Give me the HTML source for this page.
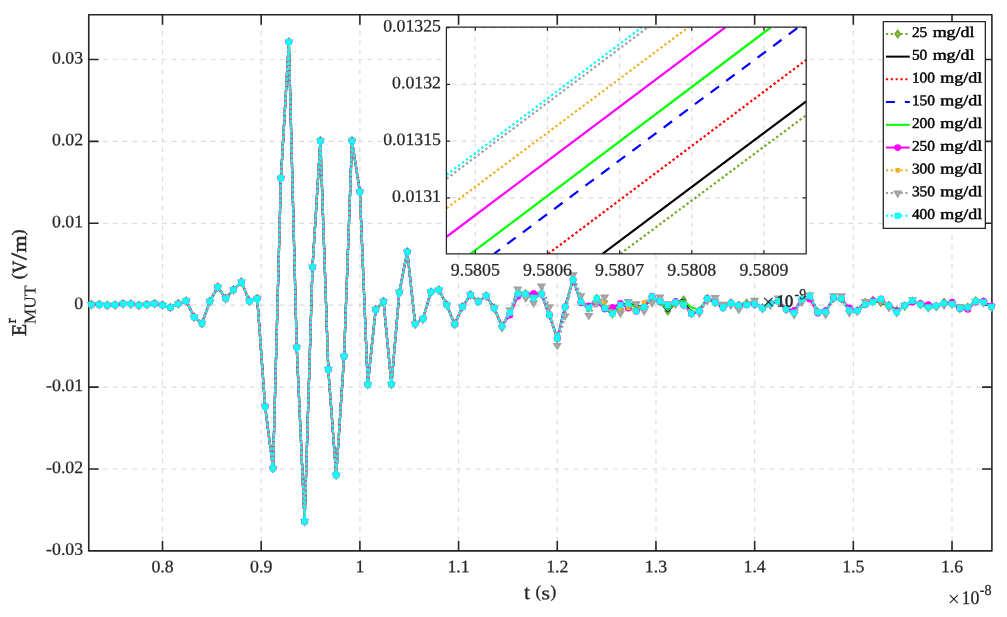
<!DOCTYPE html>
<html><head><meta charset="utf-8"><title>E MUT plot</title>
<style>html,body{margin:0;padding:0;background:#fff}svg{display:block}</style></head>
<body>
<svg width="1007" height="617" viewBox="0 0 1007 617" font-family="'Liberation Serif', serif" font-weight="normal" stroke-linejoin="round">
<rect width="1007" height="617" fill="#fff"/>
<g stroke="#dcdcdc" stroke-width="1.2" fill="none">
<path d="M162.5 14.75V550.9" stroke-dasharray="4.8 4.93" stroke-dashoffset="3.66"/>
<path d="M261.19 14.75V550.9" stroke-dasharray="4.8 4.93" stroke-dashoffset="3.66"/>
<path d="M359.88 14.75V550.9" stroke-dasharray="4.8 4.93" stroke-dashoffset="3.66"/>
<path d="M458.57 14.75V550.9" stroke-dasharray="4.8 4.93" stroke-dashoffset="3.66"/>
<path d="M557.26 14.75V550.9" stroke-dasharray="4.8 4.93" stroke-dashoffset="3.66"/>
<path d="M655.95 14.75V550.9" stroke-dasharray="4.8 4.93" stroke-dashoffset="3.66"/>
<path d="M754.64 14.75V550.9" stroke-dasharray="4.8 4.93" stroke-dashoffset="3.66"/>
<path d="M853.33 14.75V550.9" stroke-dasharray="4.8 4.93" stroke-dashoffset="3.66"/>
<path d="M952.02 14.75V550.9" stroke-dasharray="4.8 4.93" stroke-dashoffset="3.66"/>
<path d="M88.75 469H991.9" stroke-dasharray="4.8 5.01" stroke-dashoffset="5.47"/>
<path d="M88.75 387.1H991.9" stroke-dasharray="4.8 5.01" stroke-dashoffset="5.47"/>
<path d="M88.75 305.2H991.9" stroke-dasharray="4.8 5.01" stroke-dashoffset="5.47"/>
<path d="M88.75 223.3H991.9" stroke-dasharray="4.8 5.01" stroke-dashoffset="5.47"/>
<path d="M88.75 141.4H991.9" stroke-dasharray="4.8 5.01" stroke-dashoffset="5.47"/>
<path d="M88.75 59.5H991.9" stroke-dasharray="4.8 5.01" stroke-dashoffset="5.47"/>
</g>
<g stroke="#262626" stroke-width="1.6" fill="none">
<rect x="88.75" y="14.75" width="903.15" height="536.15"/>
<path d="M162.5 550.9v-9.9M162.5 14.75v9.9M261.19 550.9v-9.9M261.19 14.75v9.9M359.88 550.9v-9.9M359.88 14.75v9.9M458.57 550.9v-9.9M458.57 14.75v9.9M557.26 550.9v-9.9M557.26 14.75v9.9M655.95 550.9v-9.9M655.95 14.75v9.9M754.64 550.9v-9.9M754.64 14.75v9.9M853.33 550.9v-9.9M853.33 14.75v9.9M952.02 550.9v-9.9M952.02 14.75v9.9M88.75 469h9.9M991.9 469h-9.9M88.75 387.1h9.9M991.9 387.1h-9.9M88.75 305.2h9.9M991.9 305.2h-9.9M88.75 223.3h9.9M991.9 223.3h-9.9M88.75 141.4h9.9M991.9 141.4h-9.9M88.75 59.5h9.9M991.9 59.5h-9.9"/>
</g>
<g fill="#262626" stroke="#262626" stroke-width="0.25">
<text transform="translate(162.5,572.3) rotate(0.03) scale(1.015,1)" font-size="17.5" text-anchor="middle">0.8</text>
<text transform="translate(261.19,572.3) rotate(0.03) scale(1.015,1)" font-size="17.5" text-anchor="middle">0.9</text>
<text transform="translate(359.88,572.3) rotate(0.03) scale(1.015,1)" font-size="17.5" text-anchor="middle">1</text>
<text transform="translate(458.57,572.3) rotate(0.03) scale(1.015,1)" font-size="17.5" text-anchor="middle">1.1</text>
<text transform="translate(557.26,572.3) rotate(0.03) scale(1.015,1)" font-size="17.5" text-anchor="middle">1.2</text>
<text transform="translate(655.95,572.3) rotate(0.03) scale(1.015,1)" font-size="17.5" text-anchor="middle">1.3</text>
<text transform="translate(754.64,572.3) rotate(0.03) scale(1.015,1)" font-size="17.5" text-anchor="middle">1.4</text>
<text transform="translate(853.33,572.3) rotate(0.03) scale(1.015,1)" font-size="17.5" text-anchor="middle">1.5</text>
<text transform="translate(952.02,572.3) rotate(0.03) scale(1.015,1)" font-size="17.5" text-anchor="middle">1.6</text>
<text transform="translate(83.1,554.8) rotate(0.03) scale(1.015,1)" font-size="17.5" text-anchor="end">-0.03</text>
<text transform="translate(83.1,472.9) rotate(0.03) scale(1.015,1)" font-size="17.5" text-anchor="end">-0.02</text>
<text transform="translate(83.1,391) rotate(0.03) scale(1.015,1)" font-size="17.5" text-anchor="end">-0.01</text>
<text transform="translate(83.1,309.1) rotate(0.03) scale(1.015,1)" font-size="17.5" text-anchor="end">0</text>
<text transform="translate(83.1,227.2) rotate(0.03) scale(1.015,1)" font-size="17.5" text-anchor="end">0.01</text>
<text transform="translate(83.1,145.3) rotate(0.03) scale(1.015,1)" font-size="17.5" text-anchor="end">0.02</text>
<text transform="translate(83.1,63.4) rotate(0.03) scale(1.015,1)" font-size="17.5" text-anchor="end">0.03</text>
</g>
<text transform="translate(524,599.1) rotate(0.03)" fill="#262626" stroke="#262626" stroke-width="0.3"><tspan x="0" y="0" font-size="20.6" textLength="6.01" lengthAdjust="spacingAndGlyphs">t</tspan><tspan> </tspan><tspan x="11.5" y="-1.9" font-size="17.3">(</tspan><tspan x="17.4" y="0.1" font-size="18.7" textLength="8.51" lengthAdjust="spacingAndGlyphs">s</tspan><tspan x="26.6" y="-1.9" font-size="17.3">)</tspan></text>
<text transform="translate(961.5,603.8) rotate(0.03)" fill="#262626" stroke="#262626" stroke-width="0.25"><tspan x="-13.76" y="2.4" font-size="21.5" stroke="none">×</tspan><tspan x="0" y="0" font-size="19.2" textLength="17.86" lengthAdjust="spacingAndGlyphs">10</tspan><tspan x="18.3" y="-8.5" font-size="15.2" textLength="11.78" lengthAdjust="spacingAndGlyphs">-8</tspan></text>
<text transform="translate(26.0,336.1) rotate(-90.03)" fill="#262626" stroke="#262626" stroke-width="0.6"><tspan x="0" y="0.1" font-size="20.8" textLength="12.07" lengthAdjust="spacingAndGlyphs">E</tspan><tspan x="12.8" y="-10.3" font-size="14.6" stroke-width="0.5">r</tspan><tspan x="11.9" y="9.6" font-size="16.6" textLength="38.73" lengthAdjust="spacingAndGlyphs" stroke-width="0.15">MUT</tspan><tspan> </tspan><tspan x="56.8" y="-2.3" font-size="17.3" stroke-width="0.45">(</tspan><tspan x="62.9" y="0" font-size="20.0" textLength="12.57" lengthAdjust="spacingAndGlyphs">V</tspan><tspan x="76.2" y="0.2" font-size="22" textLength="7.09" lengthAdjust="spacingAndGlyphs">/</tspan><tspan x="83.7" y="0" font-size="19.3" textLength="16.96" lengthAdjust="spacingAndGlyphs">m</tspan><tspan x="100.9" y="-2.3" font-size="17.3" stroke-width="0.45">)</tspan></text>
<g fill="none" stroke-linejoin="round">
<polyline points="91.45,304.5 99.34,304.6 107.23,305.2 115.13,304.9 123.03,303.8 130.92,304 138.81,305.2 146.71,304.6 154.6,303.6 162.5,305.1 170.4,307.4 178.29,303.8 186.19,300.9 194.08,317.1 201.97,323.4 209.87,301.3 217.76,287.1 225.66,298.5 233.56,289.7 241.45,282 249.34,301.1 257.24,298.6 265.13,406.5 273.03,468.3 280.93,178.1 288.82,41.9 296.72,347.3 304.61,521.4 312.5,267.2 320.4,140.8 328.29,369.4 336.19,475.1 344.08,356.4 351.98,140.8 359.88,191.8 367.77,384.6 375.66,309.6 383.56,301.6 391.45,384.3 399.35,292.2 407.25,251.7 415.14,324 423.03,318.9 430.93,291.9 438.82,289.9 446.72,304.8 454.62,324.3 462.51,306.8 470.4,294.8 478.3,301.6 486.19,295.9 494.09,308.1 501.98,326.2 509.88,312.8 517.77,293.7 525.67,293.9 533.57,297.9 541.46,293.9 549.36,315 557.25,338.4 565.14,306.9 573.04,279.8 580.93,301.9 588.83,307.8 596.72,298.5 604.62,308.1 612.51,313.8 620.41,305 628.3,303.6 636.2,305.9 644.1,307 651.99,297.3 659.88,301.5 667.78,311 675.67,302.4 683.57,300 691.46,313.6 699.36,311 707.25,298.5 715.15,302.5 723.04,307.6 730.94,303 738.83,305.3 746.73,303.2 754.62,304.2 762.52,308.1 770.41,303.6 778.31,301.1 786.2,309.3 794.1,312.7 802,299 809.89,296.2 817.78,312.1 825.68,311.8 833.57,297.9 841.47,298.7 849.37,310.4 857.26,310.7 865.15,302.4 873.05,300.2 880.94,302.5 888.84,305.5 896.74,310.4 904.63,306.2 912.52,301.3 920.42,304.5 928.31,307.6 936.21,306.4 944.1,302.4 952,304 959.89,308.4 967.79,307.2 975.68,301.1 983.58,302.2 991.47,306.8" stroke="#73ab2a" stroke-width="2.2" stroke-dasharray="2.2 2.67"/>
<path d="M91.45 299.5l3.6 5l-3.6 5l-3.6 -5zM99.34 299.6l3.6 5l-3.6 5l-3.6 -5zM107.23 300.2l3.6 5l-3.6 5l-3.6 -5zM115.13 299.9l3.6 5l-3.6 5l-3.6 -5zM123.03 298.8l3.6 5l-3.6 5l-3.6 -5zM130.92 299l3.6 5l-3.6 5l-3.6 -5zM138.81 300.2l3.6 5l-3.6 5l-3.6 -5zM146.71 299.6l3.6 5l-3.6 5l-3.6 -5zM154.6 298.6l3.6 5l-3.6 5l-3.6 -5zM162.5 300.1l3.6 5l-3.6 5l-3.6 -5zM170.4 302.4l3.6 5l-3.6 5l-3.6 -5zM178.29 298.8l3.6 5l-3.6 5l-3.6 -5zM186.19 295.9l3.6 5l-3.6 5l-3.6 -5zM194.08 312.1l3.6 5l-3.6 5l-3.6 -5zM201.97 318.4l3.6 5l-3.6 5l-3.6 -5zM209.87 296.3l3.6 5l-3.6 5l-3.6 -5zM217.76 282.1l3.6 5l-3.6 5l-3.6 -5zM225.66 293.5l3.6 5l-3.6 5l-3.6 -5zM233.56 284.7l3.6 5l-3.6 5l-3.6 -5zM241.45 277l3.6 5l-3.6 5l-3.6 -5zM249.34 296.1l3.6 5l-3.6 5l-3.6 -5zM257.24 293.6l3.6 5l-3.6 5l-3.6 -5zM265.13 401.5l3.6 5l-3.6 5l-3.6 -5zM273.03 463.3l3.6 5l-3.6 5l-3.6 -5zM280.93 173.1l3.6 5l-3.6 5l-3.6 -5zM288.82 36.9l3.6 5l-3.6 5l-3.6 -5zM296.72 342.3l3.6 5l-3.6 5l-3.6 -5zM304.61 516.4l3.6 5l-3.6 5l-3.6 -5zM312.5 262.2l3.6 5l-3.6 5l-3.6 -5zM320.4 135.8l3.6 5l-3.6 5l-3.6 -5zM328.29 364.4l3.6 5l-3.6 5l-3.6 -5zM336.19 470.1l3.6 5l-3.6 5l-3.6 -5zM344.08 351.4l3.6 5l-3.6 5l-3.6 -5zM351.98 135.8l3.6 5l-3.6 5l-3.6 -5zM359.88 186.8l3.6 5l-3.6 5l-3.6 -5zM367.77 379.6l3.6 5l-3.6 5l-3.6 -5zM375.66 304.6l3.6 5l-3.6 5l-3.6 -5zM383.56 296.6l3.6 5l-3.6 5l-3.6 -5zM391.45 379.3l3.6 5l-3.6 5l-3.6 -5zM399.35 287.2l3.6 5l-3.6 5l-3.6 -5zM407.25 246.7l3.6 5l-3.6 5l-3.6 -5zM415.14 319l3.6 5l-3.6 5l-3.6 -5zM423.03 313.9l3.6 5l-3.6 5l-3.6 -5zM430.93 286.9l3.6 5l-3.6 5l-3.6 -5zM438.82 284.9l3.6 5l-3.6 5l-3.6 -5zM446.72 299.8l3.6 5l-3.6 5l-3.6 -5zM454.62 319.3l3.6 5l-3.6 5l-3.6 -5zM462.51 301.8l3.6 5l-3.6 5l-3.6 -5zM470.4 289.8l3.6 5l-3.6 5l-3.6 -5zM478.3 296.6l3.6 5l-3.6 5l-3.6 -5zM486.19 290.9l3.6 5l-3.6 5l-3.6 -5zM494.09 303.1l3.6 5l-3.6 5l-3.6 -5zM501.98 321.2l3.6 5l-3.6 5l-3.6 -5zM509.88 307.8l3.6 5l-3.6 5l-3.6 -5zM517.77 288.7l3.6 5l-3.6 5l-3.6 -5zM525.67 288.9l3.6 5l-3.6 5l-3.6 -5zM533.57 292.9l3.6 5l-3.6 5l-3.6 -5zM541.46 288.9l3.6 5l-3.6 5l-3.6 -5zM549.36 310l3.6 5l-3.6 5l-3.6 -5zM557.25 333.4l3.6 5l-3.6 5l-3.6 -5zM565.14 301.9l3.6 5l-3.6 5l-3.6 -5zM573.04 274.8l3.6 5l-3.6 5l-3.6 -5zM580.93 296.9l3.6 5l-3.6 5l-3.6 -5zM588.83 302.8l3.6 5l-3.6 5l-3.6 -5zM596.72 293.5l3.6 5l-3.6 5l-3.6 -5zM604.62 303.1l3.6 5l-3.6 5l-3.6 -5zM612.51 308.8l3.6 5l-3.6 5l-3.6 -5zM620.41 300l3.6 5l-3.6 5l-3.6 -5zM628.3 298.6l3.6 5l-3.6 5l-3.6 -5zM636.2 300.9l3.6 5l-3.6 5l-3.6 -5zM644.1 302l3.6 5l-3.6 5l-3.6 -5zM651.99 292.3l3.6 5l-3.6 5l-3.6 -5zM659.88 296.5l3.6 5l-3.6 5l-3.6 -5zM667.78 306l3.6 5l-3.6 5l-3.6 -5zM675.67 297.4l3.6 5l-3.6 5l-3.6 -5zM683.57 295l3.6 5l-3.6 5l-3.6 -5zM691.46 308.6l3.6 5l-3.6 5l-3.6 -5zM699.36 306l3.6 5l-3.6 5l-3.6 -5zM707.25 293.5l3.6 5l-3.6 5l-3.6 -5zM715.15 297.5l3.6 5l-3.6 5l-3.6 -5zM723.04 302.6l3.6 5l-3.6 5l-3.6 -5zM730.94 298l3.6 5l-3.6 5l-3.6 -5zM738.83 300.3l3.6 5l-3.6 5l-3.6 -5zM746.73 298.2l3.6 5l-3.6 5l-3.6 -5zM754.62 299.2l3.6 5l-3.6 5l-3.6 -5zM762.52 303.1l3.6 5l-3.6 5l-3.6 -5zM770.41 298.6l3.6 5l-3.6 5l-3.6 -5zM778.31 296.1l3.6 5l-3.6 5l-3.6 -5zM786.2 304.3l3.6 5l-3.6 5l-3.6 -5zM794.1 307.7l3.6 5l-3.6 5l-3.6 -5zM802 294l3.6 5l-3.6 5l-3.6 -5zM809.89 291.2l3.6 5l-3.6 5l-3.6 -5zM817.78 307.1l3.6 5l-3.6 5l-3.6 -5zM825.68 306.8l3.6 5l-3.6 5l-3.6 -5zM833.57 292.9l3.6 5l-3.6 5l-3.6 -5zM841.47 293.7l3.6 5l-3.6 5l-3.6 -5zM849.37 305.4l3.6 5l-3.6 5l-3.6 -5zM857.26 305.7l3.6 5l-3.6 5l-3.6 -5zM865.15 297.4l3.6 5l-3.6 5l-3.6 -5zM873.05 295.2l3.6 5l-3.6 5l-3.6 -5zM880.94 297.5l3.6 5l-3.6 5l-3.6 -5zM888.84 300.5l3.6 5l-3.6 5l-3.6 -5zM896.74 305.4l3.6 5l-3.6 5l-3.6 -5zM904.63 301.2l3.6 5l-3.6 5l-3.6 -5zM912.52 296.3l3.6 5l-3.6 5l-3.6 -5zM920.42 299.5l3.6 5l-3.6 5l-3.6 -5zM928.31 302.6l3.6 5l-3.6 5l-3.6 -5zM936.21 301.4l3.6 5l-3.6 5l-3.6 -5zM944.1 297.4l3.6 5l-3.6 5l-3.6 -5zM952 299l3.6 5l-3.6 5l-3.6 -5zM959.89 303.4l3.6 5l-3.6 5l-3.6 -5zM967.79 302.2l3.6 5l-3.6 5l-3.6 -5zM975.68 296.1l3.6 5l-3.6 5l-3.6 -5zM983.58 297.2l3.6 5l-3.6 5l-3.6 -5zM991.47 301.8l3.6 5l-3.6 5l-3.6 -5z" fill="#73ab2a" stroke="none"/><path d="M90.95 304h1v1h-1zM98.84 304.1h1v1h-1zM106.73 304.7h1v1h-1zM114.63 304.4h1v1h-1zM122.53 303.3h1v1h-1zM130.42 303.5h1v1h-1zM138.31 304.7h1v1h-1zM146.21 304.1h1v1h-1zM154.1 303.1h1v1h-1zM162 304.6h1v1h-1zM169.9 306.9h1v1h-1zM177.79 303.3h1v1h-1zM185.69 300.4h1v1h-1zM193.58 316.6h1v1h-1zM201.47 322.9h1v1h-1zM209.37 300.8h1v1h-1zM217.26 286.6h1v1h-1zM225.16 298h1v1h-1zM233.06 289.2h1v1h-1zM240.95 281.5h1v1h-1zM248.84 300.6h1v1h-1zM256.74 298.1h1v1h-1zM264.63 406h1v1h-1zM272.53 467.8h1v1h-1zM280.43 177.6h1v1h-1zM288.32 41.4h1v1h-1zM296.22 346.8h1v1h-1zM304.11 520.9h1v1h-1zM312 266.7h1v1h-1zM319.9 140.3h1v1h-1zM327.79 368.9h1v1h-1zM335.69 474.6h1v1h-1zM343.58 355.9h1v1h-1zM351.48 140.3h1v1h-1zM359.38 191.3h1v1h-1zM367.27 384.1h1v1h-1zM375.16 309.1h1v1h-1zM383.06 301.1h1v1h-1zM390.95 383.8h1v1h-1zM398.85 291.7h1v1h-1zM406.75 251.2h1v1h-1zM414.64 323.5h1v1h-1zM422.53 318.4h1v1h-1zM430.43 291.4h1v1h-1zM438.32 289.4h1v1h-1zM446.22 304.3h1v1h-1zM454.12 323.8h1v1h-1zM462.01 306.3h1v1h-1zM469.9 294.3h1v1h-1zM477.8 301.1h1v1h-1zM485.69 295.4h1v1h-1zM493.59 307.6h1v1h-1zM501.48 325.7h1v1h-1zM509.38 312.3h1v1h-1zM517.27 293.2h1v1h-1zM525.17 293.4h1v1h-1zM533.07 297.4h1v1h-1zM540.96 293.4h1v1h-1zM548.86 314.5h1v1h-1zM556.75 337.9h1v1h-1zM564.64 306.4h1v1h-1zM572.54 279.3h1v1h-1zM580.43 301.4h1v1h-1zM588.33 307.3h1v1h-1zM596.22 298h1v1h-1zM604.12 307.6h1v1h-1zM612.01 313.3h1v1h-1zM619.91 304.5h1v1h-1zM627.8 303.1h1v1h-1zM635.7 305.4h1v1h-1zM643.6 306.5h1v1h-1zM651.49 296.8h1v1h-1zM659.38 301h1v1h-1zM667.28 310.5h1v1h-1zM675.17 301.9h1v1h-1zM683.07 299.5h1v1h-1zM690.96 313.1h1v1h-1zM698.86 310.5h1v1h-1zM706.75 298h1v1h-1zM714.65 302h1v1h-1zM722.54 307.1h1v1h-1zM730.44 302.5h1v1h-1zM738.33 304.8h1v1h-1zM746.23 302.7h1v1h-1zM754.12 303.7h1v1h-1zM762.02 307.6h1v1h-1zM769.91 303.1h1v1h-1zM777.81 300.6h1v1h-1zM785.7 308.8h1v1h-1zM793.6 312.2h1v1h-1zM801.5 298.5h1v1h-1zM809.39 295.7h1v1h-1zM817.28 311.6h1v1h-1zM825.18 311.3h1v1h-1zM833.07 297.4h1v1h-1zM840.97 298.2h1v1h-1zM848.87 309.9h1v1h-1zM856.76 310.2h1v1h-1zM864.65 301.9h1v1h-1zM872.55 299.7h1v1h-1zM880.44 302h1v1h-1zM888.34 305h1v1h-1zM896.24 309.9h1v1h-1zM904.13 305.7h1v1h-1zM912.02 300.8h1v1h-1zM919.92 304h1v1h-1zM927.81 307.1h1v1h-1zM935.71 305.9h1v1h-1zM943.6 301.9h1v1h-1zM951.5 303.5h1v1h-1zM959.39 307.9h1v1h-1zM967.29 306.7h1v1h-1zM975.18 300.6h1v1h-1zM983.08 301.7h1v1h-1zM990.97 306.3h1v1h-1z" fill="#d5e6bd" stroke="none"/>
<polyline points="91.45,304.5 99.34,304.6 107.23,305.2 115.13,304.9 123.03,303.8 130.92,304 138.81,305.2 146.71,304.6 154.6,303.6 162.5,305.1 170.4,307.4 178.29,303.8 186.19,300.9 194.08,317.1 201.97,323.4 209.87,301.3 217.76,287.1 225.66,298.5 233.56,289.7 241.45,282 249.34,301.1 257.24,298.6 265.13,406.5 273.03,468.3 280.93,178.1 288.82,41.9 296.72,347.3 304.61,521.4 312.5,267.2 320.4,140.8 328.29,369.4 336.19,475.1 344.08,356.4 351.98,140.8 359.88,191.8 367.77,384.6 375.66,309.6 383.56,301.6 391.45,384.3 399.35,292.2 407.25,251.7 415.14,324 423.03,318.9 430.93,291.9 438.82,289.9 446.72,304.8 454.62,324.3 462.51,306.8 470.4,294.8 478.3,301.6 486.19,295.9 494.09,308.1 501.98,326.2 509.88,312.8 517.77,293.7 525.67,293.9 533.57,297.9 541.46,293.9 549.36,315 557.25,338.4 565.14,306.9 573.04,279.8 580.93,301.9 588.83,307.8 596.72,298.5 604.62,308.1 612.51,313.8 620.41,305 628.3,303.6 636.2,305.9 644.1,307 651.99,297.3 659.88,301.5 667.78,311 675.67,302.4 683.57,300 691.46,313.6 699.36,311 707.25,298.5 715.15,302.5 723.04,307.6 730.94,303 738.83,305.3 746.73,303.2 754.62,304.2 762.52,308.1 770.41,303.6 778.31,301.1 786.2,309.3 794.1,312.7 802,299 809.89,296.2 817.78,312.1 825.68,311.8 833.57,297.9 841.47,298.7 849.37,310.4 857.26,310.7 865.15,302.4 873.05,300.2 880.94,302.5 888.84,305.5 896.74,310.4 904.63,306.2 912.52,301.3 920.42,304.5 928.31,307.6 936.21,306.4 944.1,302.4 952,304 959.89,308.4 967.79,307.2 975.68,301.1 983.58,302.2 991.47,306.8" stroke="#000" stroke-width="2.2"/>
<polyline points="91.45,304.5 99.34,304.6 107.23,305.2 115.13,304.9 123.03,303.8 130.92,304 138.81,305.2 146.71,304.6 154.6,303.6 162.5,305.1 170.4,307.4 178.29,303.8 186.19,300.9 194.08,317.1 201.97,323.4 209.87,301.3 217.76,287.1 225.66,298.5 233.56,289.7 241.45,282 249.34,301.1 257.24,298.6 265.13,406.5 273.03,468.3 280.93,178.1 288.82,41.9 296.72,347.3 304.61,521.4 312.5,267.2 320.4,140.8 328.29,369.4 336.19,475.1 344.08,356.4 351.98,140.8 359.88,191.8 367.77,384.6 375.66,309.6 383.56,301.6 391.45,384.3 399.35,292.2 407.25,251.7 415.14,324 423.03,318.9 430.93,291.9 438.82,289.9 446.72,304.8 454.62,324.3 462.51,306.8 470.4,294.8 478.3,301.6 486.19,295.9 494.09,308.1 501.98,326.2 509.88,312.8 517.77,293.7 525.67,293.9 533.57,297.9 541.46,293.9 549.36,315 557.25,338.4 565.14,306.9 573.04,279.8 580.93,301.9 588.83,307.8 596.72,298.5 604.62,308.1 612.51,313.8 620.41,305 628.3,303.6 636.2,305.9 644.1,307 651.99,297.3 659.88,301.5 667.78,311 675.67,302.4 683.57,300 691.46,313.6 699.36,311 707.25,298.5 715.15,302.5 723.04,307.6 730.94,303 738.83,305.3 746.73,303.2 754.62,304.2 762.52,308.1 770.41,303.6 778.31,301.1 786.2,309.3 794.1,312.7 802,299 809.89,296.2 817.78,312.1 825.68,311.8 833.57,297.9 841.47,298.7 849.37,310.4 857.26,310.7 865.15,302.4 873.05,300.2 880.94,302.5 888.84,305.5 896.74,310.4 904.63,306.2 912.52,301.3 920.42,304.5 928.31,307.6 936.21,306.4 944.1,302.4 952,304 959.89,308.4 967.79,307.2 975.68,301.1 983.58,302.2 991.47,306.8" stroke="#f00" stroke-width="2.2" stroke-dasharray="2.2 2.67"/>
<polyline points="91.45,304.5 99.34,304.6 107.23,305.2 115.13,304.9 123.03,303.8 130.92,304 138.81,305.2 146.71,304.6 154.6,303.6 162.5,305.1 170.4,307.4 178.29,303.8 186.19,300.9 194.08,317.1 201.97,323.4 209.87,301.3 217.76,287.1 225.66,298.5 233.56,289.7 241.45,282 249.34,301.1 257.24,298.6 265.13,406.5 273.03,468.3 280.93,178.1 288.82,41.9 296.72,347.3 304.61,521.4 312.5,267.2 320.4,140.8 328.29,369.4 336.19,475.1 344.08,356.4 351.98,140.8 359.88,191.8 367.77,384.6 375.66,309.6 383.56,301.6 391.45,384.3 399.35,292.2 407.25,251.7 415.14,324 423.03,318.9 430.93,291.9 438.82,289.9 446.72,304.8 454.62,324.3 462.51,306.8 470.4,294.8 478.3,301.6 486.19,295.9 494.09,308.1 501.98,326.2 509.88,312.8 517.77,293.7 525.67,293.9 533.57,297.9 541.46,293.9 549.36,315 557.25,338.4 565.14,306.9 573.04,279.8 580.93,301.9 588.83,307.8 596.72,298.5 604.62,308.1 612.51,313.8 620.41,305 628.3,303.6 636.2,305.9 644.1,307 651.99,297.3 659.88,301.5 667.78,311 675.67,302.4 683.57,300 691.46,313.6 699.36,311 707.25,298.5 715.15,302.5 723.04,307.6 730.94,303 738.83,305.3 746.73,303.2 754.62,304.2 762.52,308.1 770.41,303.6 778.31,301.1 786.2,309.3 794.1,312.7 802,299 809.89,296.2 817.78,312.1 825.68,311.8 833.57,297.9 841.47,298.7 849.37,310.4 857.26,310.7 865.15,302.4 873.05,300.2 880.94,302.5 888.84,305.5 896.74,310.4 904.63,306.2 912.52,301.3 920.42,304.5 928.31,307.6 936.21,306.4 944.1,302.4 952,304 959.89,308.4 967.79,307.2 975.68,301.1 983.58,302.2 991.47,306.8" stroke="#00f" stroke-width="2.2" stroke-dasharray="10 9.5"/>
<polyline points="91.45,304.5 99.34,304.6 107.23,305.2 115.13,304.9 123.03,303.8 130.92,304 138.81,305.2 146.71,304.6 154.6,303.6 162.5,305.1 170.4,307.4 178.29,303.8 186.19,300.9 194.08,317.1 201.97,323.4 209.87,301.3 217.76,287.1 225.66,298.5 233.56,289.7 241.45,282 249.34,301.1 257.24,298.6 265.13,406.5 273.03,468.3 280.93,178.1 288.82,41.9 296.72,347.3 304.61,521.4 312.5,267.2 320.4,140.8 328.29,369.4 336.19,475.1 344.08,356.4 351.98,140.8 359.88,191.8 367.77,384.6 375.66,309.6 383.56,301.6 391.45,384.3 399.35,292.2 407.25,251.7 415.14,324 423.03,318.9 430.93,291.9 438.82,289.9 446.72,304.8 454.62,324.3 462.51,306.8 470.4,294.8 478.3,301.6 486.19,295.9 494.09,308.1 501.98,326.2 509.88,313.13 517.77,294.07 525.67,293.9 533.57,297.22 541.46,293.9 549.36,315 557.25,338.4 565.14,306.9 573.04,279.8 580.93,302 588.83,307.51 596.72,299.1 604.62,308.21 612.51,312.87 620.41,304.79 628.3,304.28 636.2,306.71 644.1,307 651.99,297.19 659.88,301.5 667.78,310.14 675.67,302.28 683.57,300.7 691.46,307.5 699.36,309.5 707.25,298.5 715.15,302.32 723.04,307.6 730.94,303 738.83,305.3 746.73,303.43 754.62,304.2 762.52,308.1 770.41,303.6 778.31,301.1 786.2,309.3 794.1,312.35 802,299 809.89,296.63 817.78,312.24 825.68,311.65 833.57,297.9 841.47,298.7 849.37,310.06 857.26,310.7 865.15,302.75 873.05,300.29 880.94,301.98 888.84,305.5 896.74,310.49 904.63,306.11 912.52,301.39 920.42,304.33 928.31,307.17 936.21,306.34 944.1,302.49 952,303.73 959.89,308.4 967.79,307.51 975.68,301.24 983.58,302.06 991.47,306.67" stroke="#0f0" stroke-width="2.2"/>
<polyline points="91.45,304.5 99.34,304.6 107.23,305.2 115.13,304.9 123.03,303.8 130.92,304 138.81,305.2 146.71,304.6 154.6,303.6 162.5,305.1 170.4,307.4 178.29,303.8 186.19,300.9 194.08,317.1 201.97,323.4 209.87,301.3 217.76,287.1 225.66,298.5 233.56,289.7 241.45,282 249.34,301.1 257.24,298.6 265.13,406.5 273.03,468.3 280.93,178.1 288.82,41.9 296.72,347.3 304.61,521.4 312.5,267.2 320.4,140.8 328.29,369.4 336.19,475.1 344.08,356.4 351.98,140.8 359.88,191.8 367.77,384.6 375.66,309.6 383.56,301.6 391.45,384.3 399.35,292.2 407.25,251.7 415.14,324 423.03,318.9 430.93,291.9 438.82,289.9 446.72,304.8 454.62,324.3 462.51,306.8 470.4,294.8 478.3,301.6 486.19,295.9 494.09,308.1 501.98,326.2 509.88,315 517.77,296.2 525.67,293.9 533.57,293.4 541.46,293.9 549.36,315 557.25,338.4 565.14,306.9 573.04,279.8 580.93,302.6 588.83,305.9 596.72,302.5 604.62,308.8 612.51,307.6 620.41,303.6 628.3,308.1 636.2,311.3 644.1,307 651.99,296.6 659.88,301.5 667.78,305.3 675.67,301.6 683.57,304.7 691.46,313.6 699.36,311 707.25,298.5 715.15,301.3 723.04,307.6 730.94,303 738.83,305.3 746.73,304.7 754.62,304.2 762.52,308.1 770.41,303.6 778.31,301.1 786.2,309.3 794.1,310.4 802,299 809.89,299.1 817.78,313 825.68,310.8 833.57,297.9 841.47,298.7 849.37,308.1 857.26,310.7 865.15,304.7 873.05,300.8 880.94,299 888.84,305.5 896.74,311 904.63,305.6 912.52,301.9 920.42,303.4 928.31,304.7 936.21,306 944.1,303 952,302.2 959.89,308.4 967.79,309.3 975.68,302 983.58,301.3 991.47,305.9" stroke="#ff00ff" stroke-width="2.2"/>
<circle cx="91.45" cy="304.5" r="3.5" fill="#ff00ff" stroke="none"/><circle cx="99.34" cy="304.6" r="3.5" fill="#ff00ff" stroke="none"/><circle cx="107.23" cy="305.2" r="3.5" fill="#ff00ff" stroke="none"/><circle cx="115.13" cy="304.9" r="3.5" fill="#ff00ff" stroke="none"/><circle cx="123.03" cy="303.8" r="3.5" fill="#ff00ff" stroke="none"/><circle cx="130.92" cy="304" r="3.5" fill="#ff00ff" stroke="none"/><circle cx="138.81" cy="305.2" r="3.5" fill="#ff00ff" stroke="none"/><circle cx="146.71" cy="304.6" r="3.5" fill="#ff00ff" stroke="none"/><circle cx="154.6" cy="303.6" r="3.5" fill="#ff00ff" stroke="none"/><circle cx="162.5" cy="305.1" r="3.5" fill="#ff00ff" stroke="none"/><circle cx="170.4" cy="307.4" r="3.5" fill="#ff00ff" stroke="none"/><circle cx="178.29" cy="303.8" r="3.5" fill="#ff00ff" stroke="none"/><circle cx="186.19" cy="300.9" r="3.5" fill="#ff00ff" stroke="none"/><circle cx="194.08" cy="317.1" r="3.5" fill="#ff00ff" stroke="none"/><circle cx="201.97" cy="323.4" r="3.5" fill="#ff00ff" stroke="none"/><circle cx="209.87" cy="301.3" r="3.5" fill="#ff00ff" stroke="none"/><circle cx="217.76" cy="287.1" r="3.5" fill="#ff00ff" stroke="none"/><circle cx="225.66" cy="298.5" r="3.5" fill="#ff00ff" stroke="none"/><circle cx="233.56" cy="289.7" r="3.5" fill="#ff00ff" stroke="none"/><circle cx="241.45" cy="282" r="3.5" fill="#ff00ff" stroke="none"/><circle cx="249.34" cy="301.1" r="3.5" fill="#ff00ff" stroke="none"/><circle cx="257.24" cy="298.6" r="3.5" fill="#ff00ff" stroke="none"/><circle cx="265.13" cy="406.5" r="3.5" fill="#ff00ff" stroke="none"/><circle cx="273.03" cy="468.3" r="3.5" fill="#ff00ff" stroke="none"/><circle cx="280.93" cy="178.1" r="3.5" fill="#ff00ff" stroke="none"/><circle cx="288.82" cy="41.9" r="3.5" fill="#ff00ff" stroke="none"/><circle cx="296.72" cy="347.3" r="3.5" fill="#ff00ff" stroke="none"/><circle cx="304.61" cy="521.4" r="3.5" fill="#ff00ff" stroke="none"/><circle cx="312.5" cy="267.2" r="3.5" fill="#ff00ff" stroke="none"/><circle cx="320.4" cy="140.8" r="3.5" fill="#ff00ff" stroke="none"/><circle cx="328.29" cy="369.4" r="3.5" fill="#ff00ff" stroke="none"/><circle cx="336.19" cy="475.1" r="3.5" fill="#ff00ff" stroke="none"/><circle cx="344.08" cy="356.4" r="3.5" fill="#ff00ff" stroke="none"/><circle cx="351.98" cy="140.8" r="3.5" fill="#ff00ff" stroke="none"/><circle cx="359.88" cy="191.8" r="3.5" fill="#ff00ff" stroke="none"/><circle cx="367.77" cy="384.6" r="3.5" fill="#ff00ff" stroke="none"/><circle cx="375.66" cy="309.6" r="3.5" fill="#ff00ff" stroke="none"/><circle cx="383.56" cy="301.6" r="3.5" fill="#ff00ff" stroke="none"/><circle cx="391.45" cy="384.3" r="3.5" fill="#ff00ff" stroke="none"/><circle cx="399.35" cy="292.2" r="3.5" fill="#ff00ff" stroke="none"/><circle cx="407.25" cy="251.7" r="3.5" fill="#ff00ff" stroke="none"/><circle cx="415.14" cy="324" r="3.5" fill="#ff00ff" stroke="none"/><circle cx="423.03" cy="318.9" r="3.5" fill="#ff00ff" stroke="none"/><circle cx="430.93" cy="291.9" r="3.5" fill="#ff00ff" stroke="none"/><circle cx="438.82" cy="289.9" r="3.5" fill="#ff00ff" stroke="none"/><circle cx="446.72" cy="304.8" r="3.5" fill="#ff00ff" stroke="none"/><circle cx="454.62" cy="324.3" r="3.5" fill="#ff00ff" stroke="none"/><circle cx="462.51" cy="306.8" r="3.5" fill="#ff00ff" stroke="none"/><circle cx="470.4" cy="294.8" r="3.5" fill="#ff00ff" stroke="none"/><circle cx="478.3" cy="301.6" r="3.5" fill="#ff00ff" stroke="none"/><circle cx="486.19" cy="295.9" r="3.5" fill="#ff00ff" stroke="none"/><circle cx="494.09" cy="308.1" r="3.5" fill="#ff00ff" stroke="none"/><circle cx="501.98" cy="326.2" r="3.5" fill="#ff00ff" stroke="none"/><circle cx="509.88" cy="315" r="3.5" fill="#ff00ff" stroke="none"/><circle cx="517.77" cy="296.2" r="3.5" fill="#ff00ff" stroke="none"/><circle cx="525.67" cy="293.9" r="3.5" fill="#ff00ff" stroke="none"/><circle cx="533.57" cy="293.4" r="3.5" fill="#ff00ff" stroke="none"/><circle cx="541.46" cy="293.9" r="3.5" fill="#ff00ff" stroke="none"/><circle cx="549.36" cy="315" r="3.5" fill="#ff00ff" stroke="none"/><circle cx="557.25" cy="338.4" r="3.5" fill="#ff00ff" stroke="none"/><circle cx="565.14" cy="306.9" r="3.5" fill="#ff00ff" stroke="none"/><circle cx="573.04" cy="279.8" r="3.5" fill="#ff00ff" stroke="none"/><circle cx="580.93" cy="302.6" r="3.5" fill="#ff00ff" stroke="none"/><circle cx="588.83" cy="305.9" r="3.5" fill="#ff00ff" stroke="none"/><circle cx="596.72" cy="302.5" r="3.5" fill="#ff00ff" stroke="none"/><circle cx="604.62" cy="308.8" r="3.5" fill="#ff00ff" stroke="none"/><circle cx="612.51" cy="307.6" r="3.5" fill="#ff00ff" stroke="none"/><circle cx="620.41" cy="303.6" r="3.5" fill="#ff00ff" stroke="none"/><circle cx="628.3" cy="308.1" r="3.5" fill="#ff00ff" stroke="none"/><circle cx="636.2" cy="311.3" r="3.5" fill="#ff00ff" stroke="none"/><circle cx="644.1" cy="307" r="3.5" fill="#ff00ff" stroke="none"/><circle cx="651.99" cy="296.6" r="3.5" fill="#ff00ff" stroke="none"/><circle cx="659.88" cy="301.5" r="3.5" fill="#ff00ff" stroke="none"/><circle cx="667.78" cy="305.3" r="3.5" fill="#ff00ff" stroke="none"/><circle cx="675.67" cy="301.6" r="3.5" fill="#ff00ff" stroke="none"/><circle cx="683.57" cy="304.7" r="3.5" fill="#ff00ff" stroke="none"/><circle cx="691.46" cy="313.6" r="3.5" fill="#ff00ff" stroke="none"/><circle cx="699.36" cy="311" r="3.5" fill="#ff00ff" stroke="none"/><circle cx="707.25" cy="298.5" r="3.5" fill="#ff00ff" stroke="none"/><circle cx="715.15" cy="301.3" r="3.5" fill="#ff00ff" stroke="none"/><circle cx="723.04" cy="307.6" r="3.5" fill="#ff00ff" stroke="none"/><circle cx="730.94" cy="303" r="3.5" fill="#ff00ff" stroke="none"/><circle cx="738.83" cy="305.3" r="3.5" fill="#ff00ff" stroke="none"/><circle cx="746.73" cy="304.7" r="3.5" fill="#ff00ff" stroke="none"/><circle cx="754.62" cy="304.2" r="3.5" fill="#ff00ff" stroke="none"/><circle cx="762.52" cy="308.1" r="3.5" fill="#ff00ff" stroke="none"/><circle cx="770.41" cy="303.6" r="3.5" fill="#ff00ff" stroke="none"/><circle cx="778.31" cy="301.1" r="3.5" fill="#ff00ff" stroke="none"/><circle cx="786.2" cy="309.3" r="3.5" fill="#ff00ff" stroke="none"/><circle cx="794.1" cy="310.4" r="3.5" fill="#ff00ff" stroke="none"/><circle cx="802" cy="299" r="3.5" fill="#ff00ff" stroke="none"/><circle cx="809.89" cy="299.1" r="3.5" fill="#ff00ff" stroke="none"/><circle cx="817.78" cy="313" r="3.5" fill="#ff00ff" stroke="none"/><circle cx="825.68" cy="310.8" r="3.5" fill="#ff00ff" stroke="none"/><circle cx="833.57" cy="297.9" r="3.5" fill="#ff00ff" stroke="none"/><circle cx="841.47" cy="298.7" r="3.5" fill="#ff00ff" stroke="none"/><circle cx="849.37" cy="308.1" r="3.5" fill="#ff00ff" stroke="none"/><circle cx="857.26" cy="310.7" r="3.5" fill="#ff00ff" stroke="none"/><circle cx="865.15" cy="304.7" r="3.5" fill="#ff00ff" stroke="none"/><circle cx="873.05" cy="300.8" r="3.5" fill="#ff00ff" stroke="none"/><circle cx="880.94" cy="299" r="3.5" fill="#ff00ff" stroke="none"/><circle cx="888.84" cy="305.5" r="3.5" fill="#ff00ff" stroke="none"/><circle cx="896.74" cy="311" r="3.5" fill="#ff00ff" stroke="none"/><circle cx="904.63" cy="305.6" r="3.5" fill="#ff00ff" stroke="none"/><circle cx="912.52" cy="301.9" r="3.5" fill="#ff00ff" stroke="none"/><circle cx="920.42" cy="303.4" r="3.5" fill="#ff00ff" stroke="none"/><circle cx="928.31" cy="304.7" r="3.5" fill="#ff00ff" stroke="none"/><circle cx="936.21" cy="306" r="3.5" fill="#ff00ff" stroke="none"/><circle cx="944.1" cy="303" r="3.5" fill="#ff00ff" stroke="none"/><circle cx="952" cy="302.2" r="3.5" fill="#ff00ff" stroke="none"/><circle cx="959.89" cy="308.4" r="3.5" fill="#ff00ff" stroke="none"/><circle cx="967.79" cy="309.3" r="3.5" fill="#ff00ff" stroke="none"/><circle cx="975.68" cy="302" r="3.5" fill="#ff00ff" stroke="none"/><circle cx="983.58" cy="301.3" r="3.5" fill="#ff00ff" stroke="none"/><circle cx="991.47" cy="305.9" r="3.5" fill="#ff00ff" stroke="none"/>
<polyline points="91.45,304.5 99.34,304.6 107.23,305.2 115.13,304.9 123.03,303.8 130.92,304 138.81,305.2 146.71,304.6 154.6,303.6 162.5,305.1 170.4,307.4 178.29,303.8 186.19,300.9 194.08,317.1 201.97,323.4 209.87,301.3 217.76,287.1 225.66,298.5 233.56,289.7 241.45,282 249.34,301.1 257.24,298.6 265.13,406.5 273.03,468.3 280.93,178.1 288.82,41.9 296.72,347.3 304.61,521.4 312.5,267.2 320.4,140.8 328.29,369.4 336.19,475.1 344.08,356.4 351.98,140.8 359.88,191.8 367.77,384.6 375.66,309.6 383.56,301.6 391.45,384.3 399.35,292.2 407.25,251.7 415.14,324 423.03,318.9 430.93,291.9 438.82,289.9 446.72,304.8 454.62,324.3 462.51,306.8 470.4,294.8 478.3,301.6 486.19,295.9 494.09,308.1 501.98,326.2 509.88,312.8 517.77,293.7 525.67,293.9 533.57,297.9 541.46,293.9 549.36,315 557.25,338.4 565.14,306.9 573.04,279.8 580.93,301.9 588.83,307.8 596.72,298.5 604.62,301.9 612.51,313.8 620.41,309.8 628.3,308.1 636.2,311.3 644.1,302.5 651.99,296.6 659.88,301.5 667.78,305.3 675.67,302.4 683.57,304.7 691.46,313.6 699.36,311 707.25,298.5 715.15,302.5 723.04,307.6 730.94,303 738.83,305.3 746.73,304.7 754.62,304.2 762.52,308.1 770.41,303.6 778.31,301.1 786.2,309.3 794.1,312.7 802,299 809.89,296.2 817.78,312.1 825.68,311.8 833.57,297.9 841.47,298.7 849.37,310.4 857.26,310.7 865.15,304.7 873.05,301.9 880.94,299 888.84,305.5 896.74,312.1 904.63,305.6 912.52,300.8 920.42,304.5 928.31,307.3 936.21,306 944.1,303 952,304 959.89,308.4 967.79,307.2 975.68,301.1 983.58,302.2 991.47,306.8" stroke="#edb120" stroke-width="2.2" stroke-dasharray="2.2 2.67" stroke-dashoffset="0.57"/>
<path d="M89.25 302.3h4.4v4.4h-4.4zM97.14 302.4h4.4v4.4h-4.4zM105.03 303h4.4v4.4h-4.4zM112.93 302.7h4.4v4.4h-4.4zM120.83 301.6h4.4v4.4h-4.4zM128.72 301.8h4.4v4.4h-4.4zM136.62 303h4.4v4.4h-4.4zM144.51 302.4h4.4v4.4h-4.4zM152.41 301.4h4.4v4.4h-4.4zM160.3 302.9h4.4v4.4h-4.4zM168.2 305.2h4.4v4.4h-4.4zM176.09 301.6h4.4v4.4h-4.4zM183.99 298.7h4.4v4.4h-4.4zM191.88 314.9h4.4v4.4h-4.4zM199.78 321.2h4.4v4.4h-4.4zM207.67 299.1h4.4v4.4h-4.4zM215.56 284.9h4.4v4.4h-4.4zM223.46 296.3h4.4v4.4h-4.4zM231.36 287.5h4.4v4.4h-4.4zM239.25 279.8h4.4v4.4h-4.4zM247.15 298.9h4.4v4.4h-4.4zM255.04 296.4h4.4v4.4h-4.4zM262.94 404.3h4.4v4.4h-4.4zM270.83 466.1h4.4v4.4h-4.4zM278.73 175.9h4.4v4.4h-4.4zM286.62 39.7h4.4v4.4h-4.4zM294.52 345.1h4.4v4.4h-4.4zM302.41 519.2h4.4v4.4h-4.4zM310.31 265h4.4v4.4h-4.4zM318.2 138.6h4.4v4.4h-4.4zM326.09 367.2h4.4v4.4h-4.4zM333.99 472.9h4.4v4.4h-4.4zM341.88 354.2h4.4v4.4h-4.4zM349.78 138.6h4.4v4.4h-4.4zM357.68 189.6h4.4v4.4h-4.4zM365.57 382.4h4.4v4.4h-4.4zM373.46 307.4h4.4v4.4h-4.4zM381.36 299.4h4.4v4.4h-4.4zM389.25 382.1h4.4v4.4h-4.4zM397.15 290h4.4v4.4h-4.4zM405.05 249.5h4.4v4.4h-4.4zM412.94 321.8h4.4v4.4h-4.4zM420.83 316.7h4.4v4.4h-4.4zM428.73 289.7h4.4v4.4h-4.4zM436.62 287.7h4.4v4.4h-4.4zM444.52 302.6h4.4v4.4h-4.4zM452.42 322.1h4.4v4.4h-4.4zM460.31 304.6h4.4v4.4h-4.4zM468.2 292.6h4.4v4.4h-4.4zM476.1 299.4h4.4v4.4h-4.4zM484 293.7h4.4v4.4h-4.4zM491.89 305.9h4.4v4.4h-4.4zM499.78 324h4.4v4.4h-4.4zM507.68 310.6h4.4v4.4h-4.4zM515.57 291.5h4.4v4.4h-4.4zM523.47 291.7h4.4v4.4h-4.4zM531.37 295.7h4.4v4.4h-4.4zM539.26 291.7h4.4v4.4h-4.4zM547.15 312.8h4.4v4.4h-4.4zM555.05 336.2h4.4v4.4h-4.4zM562.94 304.7h4.4v4.4h-4.4zM570.84 277.6h4.4v4.4h-4.4zM578.73 299.7h4.4v4.4h-4.4zM586.63 305.6h4.4v4.4h-4.4zM594.52 296.3h4.4v4.4h-4.4zM602.42 299.7h4.4v4.4h-4.4zM610.31 311.6h4.4v4.4h-4.4zM618.21 307.6h4.4v4.4h-4.4zM626.1 305.9h4.4v4.4h-4.4zM634 309.1h4.4v4.4h-4.4zM641.89 300.3h4.4v4.4h-4.4zM649.79 294.4h4.4v4.4h-4.4zM657.68 299.3h4.4v4.4h-4.4zM665.58 303.1h4.4v4.4h-4.4zM673.47 300.2h4.4v4.4h-4.4zM681.37 302.5h4.4v4.4h-4.4zM689.26 311.4h4.4v4.4h-4.4zM697.16 308.8h4.4v4.4h-4.4zM705.05 296.3h4.4v4.4h-4.4zM712.95 300.3h4.4v4.4h-4.4zM720.84 305.4h4.4v4.4h-4.4zM728.74 300.8h4.4v4.4h-4.4zM736.63 303.1h4.4v4.4h-4.4zM744.53 302.5h4.4v4.4h-4.4zM752.42 302h4.4v4.4h-4.4zM760.32 305.9h4.4v4.4h-4.4zM768.21 301.4h4.4v4.4h-4.4zM776.11 298.9h4.4v4.4h-4.4zM784 307.1h4.4v4.4h-4.4zM791.9 310.5h4.4v4.4h-4.4zM799.79 296.8h4.4v4.4h-4.4zM807.69 294h4.4v4.4h-4.4zM815.58 309.9h4.4v4.4h-4.4zM823.48 309.6h4.4v4.4h-4.4zM831.37 295.7h4.4v4.4h-4.4zM839.27 296.5h4.4v4.4h-4.4zM847.16 308.2h4.4v4.4h-4.4zM855.06 308.5h4.4v4.4h-4.4zM862.95 302.5h4.4v4.4h-4.4zM870.85 299.7h4.4v4.4h-4.4zM878.74 296.8h4.4v4.4h-4.4zM886.64 303.3h4.4v4.4h-4.4zM894.53 309.9h4.4v4.4h-4.4zM902.43 303.4h4.4v4.4h-4.4zM910.32 298.6h4.4v4.4h-4.4zM918.22 302.3h4.4v4.4h-4.4zM926.11 305.1h4.4v4.4h-4.4zM934.01 303.8h4.4v4.4h-4.4zM941.9 300.8h4.4v4.4h-4.4zM949.8 301.8h4.4v4.4h-4.4zM957.69 306.2h4.4v4.4h-4.4zM965.59 305h4.4v4.4h-4.4zM973.48 298.9h4.4v4.4h-4.4zM981.38 300h4.4v4.4h-4.4zM989.27 304.6h4.4v4.4h-4.4z" fill="#edb120" stroke="none"/>
<polyline points="91.45,304.5 99.34,304.6 107.23,305.2 115.13,304.9 123.03,303.8 130.92,304 138.81,305.2 146.71,304.6 154.6,303.6 162.5,305.1 170.4,307.4 178.29,303.8 186.19,300.9 194.08,317.1 201.97,323.4 209.87,301.3 217.76,287.1 225.66,298.5 233.56,289.7 241.45,282 249.34,301.1 257.24,298.6 265.13,406.5 273.03,468.3 280.93,178.1 288.82,41.9 296.72,347.3 304.61,521.4 312.5,267.2 320.4,140.8 328.29,369.4 336.19,475.1 344.08,356.4 351.98,140.8 359.88,191.8 367.77,384.6 375.66,309.6 383.56,301.6 391.45,384.3 399.35,292.2 407.25,251.7 415.14,324 423.03,318.9 430.93,291.9 438.82,289.9 446.72,304.8 454.62,324.3 462.51,306.8 470.4,294.8 478.3,301.6 486.19,295.9 494.09,308.1 501.98,327.8 509.88,309.9 517.77,288.9 525.67,297.7 533.57,302.8 541.46,286 549.36,306.7 557.25,345.4 565.14,315.8 573.04,274.7 580.93,295.7 588.83,315.3 596.72,303 604.62,296.8 612.51,312 620.41,313 628.3,301.3 636.2,303.6 644.1,310.8 651.99,302.8 659.88,297 667.78,303.6 675.67,304 683.57,305 691.46,313 699.36,313 707.25,300.5 715.15,297.4 723.04,304.2 730.94,305.1 738.83,309.4 746.73,304 754.62,300.2 762.52,308.5 770.41,305.1 778.31,297.8 786.2,309 794.1,314.5 802,301.7 809.89,294.8 817.78,312 825.68,314.2 833.57,295.7 841.47,295.7 849.37,312.5 857.26,311.3 865.15,301.3 873.05,301.5 880.94,301.1 888.84,307.4 896.74,312.5 904.63,305.1 912.52,299.6 920.42,304 928.31,307.3 936.21,305.7 944.1,305.1 952,303.4 959.89,306.5 967.79,307.5 975.68,301.5 983.58,302.5 991.47,307" stroke="#a0a0a0" stroke-width="2.2" stroke-dasharray="2.2 2.67" stroke-dashoffset="3.37"/>
<path d="M86.8 302.1h9.3l-4.65 7.6zM94.69 302.2h9.3l-4.65 7.6zM102.58 302.8h9.3l-4.65 7.6zM110.48 302.5h9.3l-4.65 7.6zM118.38 301.4h9.3l-4.65 7.6zM126.27 301.6h9.3l-4.65 7.6zM134.16 302.8h9.3l-4.65 7.6zM142.06 302.2h9.3l-4.65 7.6zM149.95 301.2h9.3l-4.65 7.6zM157.85 302.7h9.3l-4.65 7.6zM165.75 305h9.3l-4.65 7.6zM173.64 301.4h9.3l-4.65 7.6zM181.53 298.5h9.3l-4.65 7.6zM189.43 314.7h9.3l-4.65 7.6zM197.32 321h9.3l-4.65 7.6zM205.22 298.9h9.3l-4.65 7.6zM213.11 284.7h9.3l-4.65 7.6zM221.01 296.1h9.3l-4.65 7.6zM228.91 287.3h9.3l-4.65 7.6zM236.8 279.6h9.3l-4.65 7.6zM244.69 298.7h9.3l-4.65 7.6zM252.59 296.2h9.3l-4.65 7.6zM260.49 404.1h9.3l-4.65 7.6zM268.38 465.9h9.3l-4.65 7.6zM276.28 175.7h9.3l-4.65 7.6zM284.17 39.5h9.3l-4.65 7.6zM292.07 344.9h9.3l-4.65 7.6zM299.96 519h9.3l-4.65 7.6zM307.86 264.8h9.3l-4.65 7.6zM315.75 138.4h9.3l-4.65 7.6zM323.64 367h9.3l-4.65 7.6zM331.54 472.7h9.3l-4.65 7.6zM339.44 354h9.3l-4.65 7.6zM347.33 138.4h9.3l-4.65 7.6zM355.23 189.4h9.3l-4.65 7.6zM363.12 382.2h9.3l-4.65 7.6zM371.01 307.2h9.3l-4.65 7.6zM378.91 299.2h9.3l-4.65 7.6zM386.81 381.9h9.3l-4.65 7.6zM394.7 289.8h9.3l-4.65 7.6zM402.6 249.3h9.3l-4.65 7.6zM410.49 321.6h9.3l-4.65 7.6zM418.38 316.5h9.3l-4.65 7.6zM426.28 289.5h9.3l-4.65 7.6zM434.18 287.5h9.3l-4.65 7.6zM442.07 302.4h9.3l-4.65 7.6zM449.97 321.9h9.3l-4.65 7.6zM457.86 304.4h9.3l-4.65 7.6zM465.75 292.4h9.3l-4.65 7.6zM473.65 299.2h9.3l-4.65 7.6zM481.55 293.5h9.3l-4.65 7.6zM489.44 305.7h9.3l-4.65 7.6zM497.33 325.4h9.3l-4.65 7.6zM505.23 307.5h9.3l-4.65 7.6zM513.12 286.5h9.3l-4.65 7.6zM521.02 295.3h9.3l-4.65 7.6zM528.92 300.4h9.3l-4.65 7.6zM536.81 283.6h9.3l-4.65 7.6zM544.71 304.3h9.3l-4.65 7.6zM552.6 343h9.3l-4.65 7.6zM560.5 313.4h9.3l-4.65 7.6zM568.39 272.3h9.3l-4.65 7.6zM576.28 293.3h9.3l-4.65 7.6zM584.18 312.9h9.3l-4.65 7.6zM592.07 300.6h9.3l-4.65 7.6zM599.97 294.4h9.3l-4.65 7.6zM607.87 309.6h9.3l-4.65 7.6zM615.76 310.6h9.3l-4.65 7.6zM623.65 298.9h9.3l-4.65 7.6zM631.55 301.2h9.3l-4.65 7.6zM639.45 308.4h9.3l-4.65 7.6zM647.34 300.4h9.3l-4.65 7.6zM655.24 294.6h9.3l-4.65 7.6zM663.13 301.2h9.3l-4.65 7.6zM671.02 301.6h9.3l-4.65 7.6zM678.92 302.6h9.3l-4.65 7.6zM686.81 310.6h9.3l-4.65 7.6zM694.71 310.6h9.3l-4.65 7.6zM702.61 298.1h9.3l-4.65 7.6zM710.5 295h9.3l-4.65 7.6zM718.39 301.8h9.3l-4.65 7.6zM726.29 302.7h9.3l-4.65 7.6zM734.18 307h9.3l-4.65 7.6zM742.08 301.6h9.3l-4.65 7.6zM749.98 297.8h9.3l-4.65 7.6zM757.87 306.1h9.3l-4.65 7.6zM765.76 302.7h9.3l-4.65 7.6zM773.66 295.4h9.3l-4.65 7.6zM781.55 306.6h9.3l-4.65 7.6zM789.45 312.1h9.3l-4.65 7.6zM797.35 299.3h9.3l-4.65 7.6zM805.24 292.4h9.3l-4.65 7.6zM813.13 309.6h9.3l-4.65 7.6zM821.03 311.8h9.3l-4.65 7.6zM828.92 293.3h9.3l-4.65 7.6zM836.82 293.3h9.3l-4.65 7.6zM844.72 310.1h9.3l-4.65 7.6zM852.61 308.9h9.3l-4.65 7.6zM860.5 298.9h9.3l-4.65 7.6zM868.4 299.1h9.3l-4.65 7.6zM876.29 298.7h9.3l-4.65 7.6zM884.19 305h9.3l-4.65 7.6zM892.09 310.1h9.3l-4.65 7.6zM899.98 302.7h9.3l-4.65 7.6zM907.88 297.2h9.3l-4.65 7.6zM915.77 301.6h9.3l-4.65 7.6zM923.66 304.9h9.3l-4.65 7.6zM931.56 303.3h9.3l-4.65 7.6zM939.45 302.7h9.3l-4.65 7.6zM947.35 301h9.3l-4.65 7.6zM955.25 304.1h9.3l-4.65 7.6zM963.14 305.1h9.3l-4.65 7.6zM971.03 299.1h9.3l-4.65 7.6zM978.93 300.1h9.3l-4.65 7.6zM986.82 304.6h9.3l-4.65 7.6z" fill="#a0a0a0" stroke="none"/><path d="M90.75 304.2h1.4v1h-1.4zM98.64 304.3h1.4v1h-1.4zM106.53 304.9h1.4v1h-1.4zM114.43 304.6h1.4v1h-1.4zM122.33 303.5h1.4v1h-1.4zM130.22 303.7h1.4v1h-1.4zM138.12 304.9h1.4v1h-1.4zM146.01 304.3h1.4v1h-1.4zM153.91 303.3h1.4v1h-1.4zM161.8 304.8h1.4v1h-1.4zM169.7 307.1h1.4v1h-1.4zM177.59 303.5h1.4v1h-1.4zM185.49 300.6h1.4v1h-1.4zM193.38 316.8h1.4v1h-1.4zM201.28 323.1h1.4v1h-1.4zM209.17 301h1.4v1h-1.4zM217.06 286.8h1.4v1h-1.4zM224.96 298.2h1.4v1h-1.4zM232.86 289.4h1.4v1h-1.4zM240.75 281.7h1.4v1h-1.4zM248.65 300.8h1.4v1h-1.4zM256.54 298.3h1.4v1h-1.4zM264.44 406.2h1.4v1h-1.4zM272.33 468h1.4v1h-1.4zM280.23 177.8h1.4v1h-1.4zM288.12 41.6h1.4v1h-1.4zM296.02 347h1.4v1h-1.4zM303.91 521.1h1.4v1h-1.4zM311.81 266.9h1.4v1h-1.4zM319.7 140.5h1.4v1h-1.4zM327.59 369.1h1.4v1h-1.4zM335.49 474.8h1.4v1h-1.4zM343.38 356.1h1.4v1h-1.4zM351.28 140.5h1.4v1h-1.4zM359.18 191.5h1.4v1h-1.4zM367.07 384.3h1.4v1h-1.4zM374.96 309.3h1.4v1h-1.4zM382.86 301.3h1.4v1h-1.4zM390.75 384h1.4v1h-1.4zM398.65 291.9h1.4v1h-1.4zM406.55 251.4h1.4v1h-1.4zM414.44 323.7h1.4v1h-1.4zM422.33 318.6h1.4v1h-1.4zM430.23 291.6h1.4v1h-1.4zM438.12 289.6h1.4v1h-1.4zM446.02 304.5h1.4v1h-1.4zM453.92 324h1.4v1h-1.4zM461.81 306.5h1.4v1h-1.4zM469.7 294.5h1.4v1h-1.4zM477.6 301.3h1.4v1h-1.4zM485.5 295.6h1.4v1h-1.4zM493.39 307.8h1.4v1h-1.4zM501.28 327.5h1.4v1h-1.4zM509.18 309.6h1.4v1h-1.4zM517.07 288.6h1.4v1h-1.4zM524.97 297.4h1.4v1h-1.4zM532.87 302.5h1.4v1h-1.4zM540.76 285.7h1.4v1h-1.4zM548.65 306.4h1.4v1h-1.4zM556.55 345.1h1.4v1h-1.4zM564.44 315.5h1.4v1h-1.4zM572.34 274.4h1.4v1h-1.4zM580.23 295.4h1.4v1h-1.4zM588.13 315h1.4v1h-1.4zM596.02 302.7h1.4v1h-1.4zM603.92 296.5h1.4v1h-1.4zM611.81 311.7h1.4v1h-1.4zM619.71 312.7h1.4v1h-1.4zM627.6 301h1.4v1h-1.4zM635.5 303.3h1.4v1h-1.4zM643.39 310.5h1.4v1h-1.4zM651.29 302.5h1.4v1h-1.4zM659.18 296.7h1.4v1h-1.4zM667.08 303.3h1.4v1h-1.4zM674.97 303.7h1.4v1h-1.4zM682.87 304.7h1.4v1h-1.4zM690.76 312.7h1.4v1h-1.4zM698.66 312.7h1.4v1h-1.4zM706.55 300.2h1.4v1h-1.4zM714.45 297.1h1.4v1h-1.4zM722.34 303.9h1.4v1h-1.4zM730.24 304.8h1.4v1h-1.4zM738.13 309.1h1.4v1h-1.4zM746.03 303.7h1.4v1h-1.4zM753.92 299.9h1.4v1h-1.4zM761.82 308.2h1.4v1h-1.4zM769.71 304.8h1.4v1h-1.4zM777.61 297.5h1.4v1h-1.4zM785.5 308.7h1.4v1h-1.4zM793.4 314.2h1.4v1h-1.4zM801.29 301.4h1.4v1h-1.4zM809.19 294.5h1.4v1h-1.4zM817.08 311.7h1.4v1h-1.4zM824.98 313.9h1.4v1h-1.4zM832.87 295.4h1.4v1h-1.4zM840.77 295.4h1.4v1h-1.4zM848.66 312.2h1.4v1h-1.4zM856.56 311h1.4v1h-1.4zM864.45 301h1.4v1h-1.4zM872.35 301.2h1.4v1h-1.4zM880.24 300.8h1.4v1h-1.4zM888.14 307.1h1.4v1h-1.4zM896.03 312.2h1.4v1h-1.4zM903.93 304.8h1.4v1h-1.4zM911.82 299.3h1.4v1h-1.4zM919.72 303.7h1.4v1h-1.4zM927.61 307h1.4v1h-1.4zM935.51 305.4h1.4v1h-1.4zM943.4 304.8h1.4v1h-1.4zM951.3 303.1h1.4v1h-1.4zM959.19 306.2h1.4v1h-1.4zM967.09 307.2h1.4v1h-1.4zM974.98 301.2h1.4v1h-1.4zM982.88 302.2h1.4v1h-1.4zM990.77 306.7h1.4v1h-1.4z" fill="#c9c9c9" stroke="none"/>
<polyline points="91.45,304.5 99.34,304.6 107.23,305.2 115.13,304.9 123.03,303.8 130.92,304 138.81,305.2 146.71,304.6 154.6,303.6 162.5,305.1 170.4,307.4 178.29,303.8 186.19,300.9 194.08,317.1 201.97,323.4 209.87,301.3 217.76,287.1 225.66,298.5 233.56,289.7 241.45,282 249.34,301.1 257.24,298.6 265.13,406.5 273.03,468.3 280.93,178.1 288.82,41.9 296.72,347.3 304.61,521.4 312.5,267.2 320.4,140.8 328.29,369.4 336.19,475.1 344.08,356.4 351.98,140.8 359.88,191.8 367.77,384.6 375.66,309.6 383.56,301.6 391.45,384.3 399.35,292.2 407.25,251.7 415.14,324 423.03,318.9 430.93,291.9 438.82,289.9 446.72,304.8 454.62,324.3 462.51,306.8 470.4,294.8 478.3,301.6 486.19,295.9 494.09,308.1 501.98,326.2 509.88,312.8 517.77,293.7 525.67,293.9 533.57,297.9 541.46,293.9 549.36,315 557.25,338.4 565.14,306.9 573.04,279.8 580.93,301.9 588.83,307.8 596.72,298.5 604.62,308.1 612.51,313.8 620.41,305 628.3,303.6 636.2,311.3 644.1,307 651.99,296.6 659.88,301.5 667.78,305.3 675.67,302.4 683.57,304.7 691.46,313.6 699.36,311 707.25,298.5 715.15,302.5 723.04,307.6 730.94,303 738.83,305.3 746.73,304.7 754.62,304.2 762.52,308.1 770.41,303.6 778.31,301.1 786.2,309.3 794.1,312.7 802,299 809.89,296.2 817.78,312.1 825.68,311.8 833.57,297.9 841.47,298.7 849.37,310.4 857.26,310.7 865.15,304.7 873.05,301.9 880.94,299 888.84,305.5 896.74,312.1 904.63,305.6 912.52,300.8 920.42,304.5 928.31,307.3 936.21,306 944.1,303 952,304 959.89,308.4 967.79,307.2 975.68,301.1 983.58,302.2 991.47,306.8" stroke="#00ffff" stroke-width="2.2" stroke-dasharray="2.8 2.07"/>
<path d="M88.4 301.45h6.1v6.1h-6.1zM96.29 301.55h6.1v6.1h-6.1zM104.19 302.15h6.1v6.1h-6.1zM112.08 301.85h6.1v6.1h-6.1zM119.98 300.75h6.1v6.1h-6.1zM127.87 300.95h6.1v6.1h-6.1zM135.76 302.15h6.1v6.1h-6.1zM143.66 301.55h6.1v6.1h-6.1zM151.55 300.55h6.1v6.1h-6.1zM159.45 302.05h6.1v6.1h-6.1zM167.34 304.35h6.1v6.1h-6.1zM175.24 300.75h6.1v6.1h-6.1zM183.13 297.85h6.1v6.1h-6.1zM191.03 314.05h6.1v6.1h-6.1zM198.92 320.35h6.1v6.1h-6.1zM206.82 298.25h6.1v6.1h-6.1zM214.71 284.05h6.1v6.1h-6.1zM222.61 295.45h6.1v6.1h-6.1zM230.5 286.65h6.1v6.1h-6.1zM238.4 278.95h6.1v6.1h-6.1zM246.29 298.05h6.1v6.1h-6.1zM254.19 295.55h6.1v6.1h-6.1zM262.08 403.45h6.1v6.1h-6.1zM269.98 465.25h6.1v6.1h-6.1zM277.88 175.05h6.1v6.1h-6.1zM285.77 38.85h6.1v6.1h-6.1zM293.67 344.25h6.1v6.1h-6.1zM301.56 518.35h6.1v6.1h-6.1zM309.45 264.15h6.1v6.1h-6.1zM317.35 137.75h6.1v6.1h-6.1zM325.24 366.35h6.1v6.1h-6.1zM333.14 472.05h6.1v6.1h-6.1zM341.03 353.35h6.1v6.1h-6.1zM348.93 137.75h6.1v6.1h-6.1zM356.82 188.75h6.1v6.1h-6.1zM364.72 381.55h6.1v6.1h-6.1zM372.61 306.55h6.1v6.1h-6.1zM380.51 298.55h6.1v6.1h-6.1zM388.4 381.25h6.1v6.1h-6.1zM396.3 289.15h6.1v6.1h-6.1zM404.19 248.65h6.1v6.1h-6.1zM412.09 320.95h6.1v6.1h-6.1zM419.98 315.85h6.1v6.1h-6.1zM427.88 288.85h6.1v6.1h-6.1zM435.77 286.85h6.1v6.1h-6.1zM443.67 301.75h6.1v6.1h-6.1zM451.56 321.25h6.1v6.1h-6.1zM459.46 303.75h6.1v6.1h-6.1zM467.35 291.75h6.1v6.1h-6.1zM475.25 298.55h6.1v6.1h-6.1zM483.14 292.85h6.1v6.1h-6.1zM491.04 305.05h6.1v6.1h-6.1zM498.93 323.15h6.1v6.1h-6.1zM506.83 309.75h6.1v6.1h-6.1zM514.73 290.65h6.1v6.1h-6.1zM522.62 290.85h6.1v6.1h-6.1zM530.52 294.85h6.1v6.1h-6.1zM538.41 290.85h6.1v6.1h-6.1zM546.31 311.95h6.1v6.1h-6.1zM554.2 335.35h6.1v6.1h-6.1zM562.1 303.85h6.1v6.1h-6.1zM569.99 276.75h6.1v6.1h-6.1zM577.88 298.85h6.1v6.1h-6.1zM585.78 304.75h6.1v6.1h-6.1zM593.67 295.45h6.1v6.1h-6.1zM601.57 305.05h6.1v6.1h-6.1zM609.47 310.75h6.1v6.1h-6.1zM617.36 301.95h6.1v6.1h-6.1zM625.25 300.55h6.1v6.1h-6.1zM633.15 308.25h6.1v6.1h-6.1zM641.05 303.95h6.1v6.1h-6.1zM648.94 293.55h6.1v6.1h-6.1zM656.84 298.45h6.1v6.1h-6.1zM664.73 302.25h6.1v6.1h-6.1zM672.62 299.35h6.1v6.1h-6.1zM680.52 301.65h6.1v6.1h-6.1zM688.41 310.55h6.1v6.1h-6.1zM696.31 307.95h6.1v6.1h-6.1zM704.21 295.45h6.1v6.1h-6.1zM712.1 299.45h6.1v6.1h-6.1zM720 304.55h6.1v6.1h-6.1zM727.89 299.95h6.1v6.1h-6.1zM735.78 302.25h6.1v6.1h-6.1zM743.68 301.65h6.1v6.1h-6.1zM751.58 301.15h6.1v6.1h-6.1zM759.47 305.05h6.1v6.1h-6.1zM767.37 300.55h6.1v6.1h-6.1zM775.26 298.05h6.1v6.1h-6.1zM783.15 306.25h6.1v6.1h-6.1zM791.05 309.65h6.1v6.1h-6.1zM798.95 295.95h6.1v6.1h-6.1zM806.84 293.15h6.1v6.1h-6.1zM814.74 309.05h6.1v6.1h-6.1zM822.63 308.75h6.1v6.1h-6.1zM830.52 294.85h6.1v6.1h-6.1zM838.42 295.65h6.1v6.1h-6.1zM846.32 307.35h6.1v6.1h-6.1zM854.21 307.65h6.1v6.1h-6.1zM862.11 301.65h6.1v6.1h-6.1zM870 298.85h6.1v6.1h-6.1zM877.89 295.95h6.1v6.1h-6.1zM885.79 302.45h6.1v6.1h-6.1zM893.69 309.05h6.1v6.1h-6.1zM901.58 302.55h6.1v6.1h-6.1zM909.48 297.75h6.1v6.1h-6.1zM917.37 301.45h6.1v6.1h-6.1zM925.26 304.25h6.1v6.1h-6.1zM933.16 302.95h6.1v6.1h-6.1zM941.05 299.95h6.1v6.1h-6.1zM948.95 300.95h6.1v6.1h-6.1zM956.85 305.35h6.1v6.1h-6.1zM964.74 304.15h6.1v6.1h-6.1zM972.63 298.05h6.1v6.1h-6.1zM980.53 299.15h6.1v6.1h-6.1zM988.42 303.75h6.1v6.1h-6.1z" fill="#00ffff" stroke="none"/><path d="M90.85 303.9h1.2v1.2h-1.2zM98.74 304h1.2v1.2h-1.2zM106.64 304.6h1.2v1.2h-1.2zM114.53 304.3h1.2v1.2h-1.2zM122.43 303.2h1.2v1.2h-1.2zM130.32 303.4h1.2v1.2h-1.2zM138.22 304.6h1.2v1.2h-1.2zM146.11 304h1.2v1.2h-1.2zM154 303h1.2v1.2h-1.2zM161.9 304.5h1.2v1.2h-1.2zM169.8 306.8h1.2v1.2h-1.2zM177.69 303.2h1.2v1.2h-1.2zM185.59 300.3h1.2v1.2h-1.2zM193.48 316.5h1.2v1.2h-1.2zM201.38 322.8h1.2v1.2h-1.2zM209.27 300.7h1.2v1.2h-1.2zM217.16 286.5h1.2v1.2h-1.2zM225.06 297.9h1.2v1.2h-1.2zM232.96 289.1h1.2v1.2h-1.2zM240.85 281.4h1.2v1.2h-1.2zM248.75 300.5h1.2v1.2h-1.2zM256.64 298h1.2v1.2h-1.2zM264.53 405.9h1.2v1.2h-1.2zM272.43 467.7h1.2v1.2h-1.2zM280.32 177.5h1.2v1.2h-1.2zM288.22 41.3h1.2v1.2h-1.2zM296.12 346.7h1.2v1.2h-1.2zM304.01 520.8h1.2v1.2h-1.2zM311.9 266.6h1.2v1.2h-1.2zM319.8 140.2h1.2v1.2h-1.2zM327.69 368.8h1.2v1.2h-1.2zM335.59 474.5h1.2v1.2h-1.2zM343.48 355.8h1.2v1.2h-1.2zM351.38 140.2h1.2v1.2h-1.2zM359.27 191.2h1.2v1.2h-1.2zM367.17 384h1.2v1.2h-1.2zM375.06 309h1.2v1.2h-1.2zM382.96 301h1.2v1.2h-1.2zM390.85 383.7h1.2v1.2h-1.2zM398.75 291.6h1.2v1.2h-1.2zM406.64 251.1h1.2v1.2h-1.2zM414.54 323.4h1.2v1.2h-1.2zM422.43 318.3h1.2v1.2h-1.2zM430.33 291.3h1.2v1.2h-1.2zM438.22 289.3h1.2v1.2h-1.2zM446.12 304.2h1.2v1.2h-1.2zM454.01 323.7h1.2v1.2h-1.2zM461.91 306.2h1.2v1.2h-1.2zM469.8 294.2h1.2v1.2h-1.2zM477.7 301h1.2v1.2h-1.2zM485.59 295.3h1.2v1.2h-1.2zM493.49 307.5h1.2v1.2h-1.2zM501.38 325.6h1.2v1.2h-1.2zM509.28 312.2h1.2v1.2h-1.2zM517.17 293.1h1.2v1.2h-1.2zM525.07 293.3h1.2v1.2h-1.2zM532.97 297.3h1.2v1.2h-1.2zM540.86 293.3h1.2v1.2h-1.2zM548.75 314.4h1.2v1.2h-1.2zM556.65 337.8h1.2v1.2h-1.2zM564.54 306.3h1.2v1.2h-1.2zM572.44 279.2h1.2v1.2h-1.2zM580.33 301.3h1.2v1.2h-1.2zM588.23 307.2h1.2v1.2h-1.2zM596.12 297.9h1.2v1.2h-1.2zM604.02 307.5h1.2v1.2h-1.2zM611.91 313.2h1.2v1.2h-1.2zM619.81 304.4h1.2v1.2h-1.2zM627.7 303h1.2v1.2h-1.2zM635.6 310.7h1.2v1.2h-1.2zM643.5 306.4h1.2v1.2h-1.2zM651.39 296h1.2v1.2h-1.2zM659.28 300.9h1.2v1.2h-1.2zM667.18 304.7h1.2v1.2h-1.2zM675.07 301.8h1.2v1.2h-1.2zM682.97 304.1h1.2v1.2h-1.2zM690.86 313h1.2v1.2h-1.2zM698.76 310.4h1.2v1.2h-1.2zM706.65 297.9h1.2v1.2h-1.2zM714.55 301.9h1.2v1.2h-1.2zM722.44 307h1.2v1.2h-1.2zM730.34 302.4h1.2v1.2h-1.2zM738.23 304.7h1.2v1.2h-1.2zM746.13 304.1h1.2v1.2h-1.2zM754.02 303.6h1.2v1.2h-1.2zM761.92 307.5h1.2v1.2h-1.2zM769.81 303h1.2v1.2h-1.2zM777.71 300.5h1.2v1.2h-1.2zM785.6 308.7h1.2v1.2h-1.2zM793.5 312.1h1.2v1.2h-1.2zM801.39 298.4h1.2v1.2h-1.2zM809.29 295.6h1.2v1.2h-1.2zM817.18 311.5h1.2v1.2h-1.2zM825.08 311.2h1.2v1.2h-1.2zM832.97 297.3h1.2v1.2h-1.2zM840.87 298.1h1.2v1.2h-1.2zM848.76 309.8h1.2v1.2h-1.2zM856.66 310.1h1.2v1.2h-1.2zM864.55 304.1h1.2v1.2h-1.2zM872.45 301.3h1.2v1.2h-1.2zM880.34 298.4h1.2v1.2h-1.2zM888.24 304.9h1.2v1.2h-1.2zM896.13 311.5h1.2v1.2h-1.2zM904.03 305h1.2v1.2h-1.2zM911.92 300.2h1.2v1.2h-1.2zM919.82 303.9h1.2v1.2h-1.2zM927.71 306.7h1.2v1.2h-1.2zM935.61 305.4h1.2v1.2h-1.2zM943.5 302.4h1.2v1.2h-1.2zM951.4 303.4h1.2v1.2h-1.2zM959.29 307.8h1.2v1.2h-1.2zM967.19 306.6h1.2v1.2h-1.2zM975.08 300.5h1.2v1.2h-1.2zM982.98 301.6h1.2v1.2h-1.2zM990.87 306.2h1.2v1.2h-1.2z" fill="#c9c98a" stroke="none"/>
</g>
<rect x="446.4" y="27.0" width="359.8" height="226.95" fill="#fff"/>
<g stroke="#dcdcdc" stroke-width="1.2" fill="none">
<path d="M475.3 27.0V253.95" stroke-dasharray="4.4 4.45" stroke-dashoffset="7.85"/>
<path d="M547.45 27.0V253.95" stroke-dasharray="4.4 4.45" stroke-dashoffset="7.85"/>
<path d="M619.6 27.0V253.95" stroke-dasharray="4.4 4.45" stroke-dashoffset="7.85"/>
<path d="M691.75 27.0V253.95" stroke-dasharray="4.4 4.45" stroke-dashoffset="7.85"/>
<path d="M763.9 27.0V253.95" stroke-dasharray="4.4 4.45" stroke-dashoffset="7.85"/>
<path d="M446.4 197.8H806.2" stroke-dasharray="4.8 4.96" stroke-dashoffset="4.46"/>
<path d="M446.4 141.1H806.2" stroke-dasharray="4.8 4.96" stroke-dashoffset="4.46"/>
<path d="M446.4 84.4H806.2" stroke-dasharray="4.8 4.96" stroke-dashoffset="4.46"/>
<path d="M446.4 27.7H806.2" stroke-dasharray="4.8 4.96" stroke-dashoffset="4.46"/>
</g>
<clipPath id="ic"><rect x="446.4" y="27.0" width="359.8" height="226.95"/></clipPath>
<g clip-path="url(#ic)" fill="none" stroke-width="2.2">
<path d="M620.4 253.8L806.2 115.2" stroke="#73ab2a" stroke-dasharray="2.4 2.46" stroke-dashoffset="0"/>
<path d="M602.5 253.8L806.2 101.4" stroke="#000"/>
<path d="M548.3 253.8L806.2 59.9" stroke="#f00" stroke-dasharray="2.4 2.46" stroke-dashoffset="0"/>
<path d="M494 253.8L798.3 27.3" stroke="#00f" stroke-dasharray="10.5 9" stroke-dashoffset="3"/>
<path d="M470.5 253.8L770.9 27.3" stroke="#0f0"/>
<path d="M446.6 236.8L725.3 27.3" stroke="#ff00ff"/>
<path d="M446.6 208.3L688.3 27.3" stroke="#edb120" stroke-dasharray="2.4 2.46" stroke-dashoffset="0"/>
<path d="M446.6 178.7L647.9 27.3" stroke="#a0a0a0" stroke-dasharray="2.4 2.46" stroke-dashoffset="0"/>
<path d="M446.6 174.8L641.7 27.3" stroke="#00ffff" stroke-dasharray="2.4 2.46" stroke-dashoffset="0"/>
</g>
<g stroke="#262626" stroke-width="1.25" fill="none">
<rect x="446.4" y="27.0" width="359.8" height="226.95"/>
<path d="M475.3 253.95v-3.7M475.3 27.0v3.7M547.45 253.95v-3.7M547.45 27.0v3.7M619.6 253.95v-3.7M619.6 27.0v3.7M691.75 253.95v-3.7M691.75 27.0v3.7M763.9 253.95v-3.7M763.9 27.0v3.7M446.4 197.8h3.7M806.2 197.8h-3.7M446.4 141.1h3.7M806.2 141.1h-3.7M446.4 84.4h3.7M806.2 84.4h-3.7M446.4 27.7h3.7M806.2 27.7h-3.7"/>
</g>
<g fill="#262626" stroke="#262626" stroke-width="0.25">
<text transform="translate(475.3,275.5) rotate(0.03) scale(1.02,1)" font-size="17.5" text-anchor="middle">9.5805</text>
<text transform="translate(547.45,275.5) rotate(0.03) scale(1.02,1)" font-size="17.5" text-anchor="middle">9.5806</text>
<text transform="translate(619.6,275.5) rotate(0.03) scale(1.02,1)" font-size="17.5" text-anchor="middle">9.5807</text>
<text transform="translate(691.75,275.5) rotate(0.03) scale(1.02,1)" font-size="17.5" text-anchor="middle">9.5808</text>
<text transform="translate(763.9,275.5) rotate(0.03) scale(1.02,1)" font-size="17.5" text-anchor="middle">9.5809</text>
<text transform="translate(440.9,201.7) rotate(0.03) scale(1.015,1)" font-size="17.5" text-anchor="end">0.0131</text>
<text transform="translate(440.9,145) rotate(0.03) scale(1.015,1)" font-size="17.5" text-anchor="end">0.01315</text>
<text transform="translate(440.9,88.3) rotate(0.03) scale(1.015,1)" font-size="17.5" text-anchor="end">0.0132</text>
<text transform="translate(440.9,31.6) rotate(0.03) scale(1.015,1)" font-size="17.5" text-anchor="end">0.01325</text>
<text transform="translate(777.5,306.6) rotate(0.03)"><tspan x="-15.59" y="2.8" font-size="22.5" stroke="none">×</tspan><tspan x="-0.7" y="0" font-size="16.8" textLength="16.3" lengthAdjust="spacingAndGlyphs" stroke-width="0.6">10</tspan><tspan x="17.1" y="-8.1" font-size="15.0" textLength="11.62" lengthAdjust="spacingAndGlyphs">-9</tspan></text>
</g>
<rect x="883.3" y="21.6" width="102.05" height="206.85" fill="#fff" stroke="#262626" stroke-width="1.3"/>
<g fill="none" stroke-width="2">
<path d="M885.9 33.9H909.8" stroke="#73ab2a" stroke-dasharray="2.2 2.66" stroke-dashoffset="0"/>
<path d="M897.7 28.9l3.6 5l-3.6 5l-3.6 -5z" fill="#73ab2a" stroke="none"/><rect x="897.1" y="33.3" width="1.2" height="1.2" fill="#d5e6bd" stroke="none"/>
<path d="M885.9 56.63H909.8" stroke="#000"/>
<path d="M885.9 79.36H909.8" stroke="#f00" stroke-dasharray="2.2 2.66" stroke-dashoffset="0"/>
<path d="M885.9 102.09H909.8" stroke="#00f" stroke-dasharray="9 10" stroke-dashoffset="0"/>
<path d="M885.9 124.82H909.8" stroke="#0f0"/>
<path d="M885.9 147.55H909.8" stroke="#ff00ff"/>
<circle cx="897.7" cy="147.55" r="3.4" fill="#ff00ff" stroke="none"/>
<path d="M885.9 170.28H909.8" stroke="#edb120" stroke-dasharray="2.2 2.66" stroke-dashoffset="0"/>
<rect x="895.5" y="167.98" width="4.4" height="4.6" fill="#edb120" stroke="none"/>
<path d="M885.9 193.01H909.8" stroke="#a0a0a0" stroke-dasharray="2.2 2.66" stroke-dashoffset="0"/>
<path d="M893.0500000000001 190.61h9.3l-4.65 7.6z" fill="#a0a0a0" stroke="none"/><rect x="897.0" y="192.71" width="1.4" height="1" fill="#d0d0d0" stroke="none"/>
<path d="M885.9 215.74H909.8" stroke="#00ffff" stroke-dasharray="2.2 2.66" stroke-dashoffset="0"/>
<rect x="894.6500000000001" y="212.74" width="6.1" height="6" fill="#00ffff" stroke="none"/><rect x="897.1" y="215.14" width="1.2" height="1.2" fill="#b0ffff" stroke="none"/>
</g>
<g fill="#000" stroke="#000" stroke-width="0.45">
<text transform="translate(911.9,37.05) rotate(0.03)"><tspan x="0" y="0" font-size="14.9" textLength="15.42" lengthAdjust="spacingAndGlyphs">25</tspan><tspan> </tspan><tspan x="20.74" y="0" font-size="14.9" textLength="41.9" lengthAdjust="spacingAndGlyphs">mg/dl</tspan></text>
<text transform="translate(911.9,59.78) rotate(0.03)"><tspan x="0" y="0" font-size="14.9" textLength="15.42" lengthAdjust="spacingAndGlyphs">50</tspan><tspan> </tspan><tspan x="20.74" y="0" font-size="14.9" textLength="41.9" lengthAdjust="spacingAndGlyphs">mg/dl</tspan></text>
<text transform="translate(911.9,82.51) rotate(0.03)"><tspan x="0" y="0" font-size="14.9" textLength="23.13" lengthAdjust="spacingAndGlyphs">100</tspan><tspan> </tspan><tspan x="28.46" y="0" font-size="14.9" textLength="41.9" lengthAdjust="spacingAndGlyphs">mg/dl</tspan></text>
<text transform="translate(911.9,105.24) rotate(0.03)"><tspan x="0" y="0" font-size="14.9" textLength="23.13" lengthAdjust="spacingAndGlyphs">150</tspan><tspan> </tspan><tspan x="28.46" y="0" font-size="14.9" textLength="41.9" lengthAdjust="spacingAndGlyphs">mg/dl</tspan></text>
<text transform="translate(911.9,127.97) rotate(0.03)"><tspan x="0" y="0" font-size="14.9" textLength="23.13" lengthAdjust="spacingAndGlyphs">200</tspan><tspan> </tspan><tspan x="28.46" y="0" font-size="14.9" textLength="41.9" lengthAdjust="spacingAndGlyphs">mg/dl</tspan></text>
<text transform="translate(911.9,150.7) rotate(0.03)"><tspan x="0" y="0" font-size="14.9" textLength="23.13" lengthAdjust="spacingAndGlyphs">250</tspan><tspan> </tspan><tspan x="28.46" y="0" font-size="14.9" textLength="41.9" lengthAdjust="spacingAndGlyphs">mg/dl</tspan></text>
<text transform="translate(911.9,173.43) rotate(0.03)"><tspan x="0" y="0" font-size="14.9" textLength="23.13" lengthAdjust="spacingAndGlyphs">300</tspan><tspan> </tspan><tspan x="28.46" y="0" font-size="14.9" textLength="41.9" lengthAdjust="spacingAndGlyphs">mg/dl</tspan></text>
<text transform="translate(911.9,196.16) rotate(0.03)"><tspan x="0" y="0" font-size="14.9" textLength="23.13" lengthAdjust="spacingAndGlyphs">350</tspan><tspan> </tspan><tspan x="28.46" y="0" font-size="14.9" textLength="41.9" lengthAdjust="spacingAndGlyphs">mg/dl</tspan></text>
<text transform="translate(911.9,218.89) rotate(0.03)"><tspan x="0" y="0" font-size="14.9" textLength="23.13" lengthAdjust="spacingAndGlyphs">400</tspan><tspan> </tspan><tspan x="28.46" y="0" font-size="14.9" textLength="41.9" lengthAdjust="spacingAndGlyphs">mg/dl</tspan></text>
</g>
</svg>
</body></html>
